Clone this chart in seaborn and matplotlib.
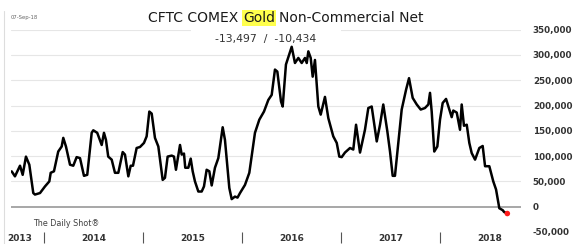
import pandas as pd
import matplotlib
matplotlib.use('Agg')
from matplotlib import pyplot as plt
import seaborn as sns

# readings: decimal year and net non-commercial position (contracts)
years = [2013.674, 2013.707, 2013.758, 2013.785, 2013.818, 2013.852, 2013.892, 2013.909,
         2013.960, 2014.010, 2014.054, 2014.068, 2014.101, 2014.144, 2014.179, 2014.195,
         2014.222, 2014.263, 2014.296, 2014.330, 2014.364, 2014.404, 2014.437, 2014.482,
         2014.498, 2014.538, 2014.583, 2014.606, 2014.626, 2014.649, 2014.684, 2014.717,
         2014.751, 2014.795, 2014.818, 2014.852, 2014.876, 2014.899, 2014.936, 2014.970,
         2015.010, 2015.037, 2015.064, 2015.088, 2015.121, 2015.155, 2015.199, 2015.222,
         2015.249, 2015.290, 2015.313, 2015.333, 2015.374, 2015.391, 2015.414, 2015.427,
         2015.458, 2015.482, 2015.502, 2015.525, 2015.559, 2015.593, 2015.616, 2015.643,
         2015.670, 2015.694, 2015.727, 2015.761, 2015.805, 2015.828, 2015.872, 2015.896,
         2015.929, 2015.955, 2015.980, 2016.030, 2016.074, 2016.131, 2016.175, 2016.222,
         2016.266, 2016.300, 2016.333, 2016.357, 2016.394, 2016.411, 2016.444, 2016.502,
         2016.535, 2016.569, 2016.603, 2016.636, 2016.654, 2016.670, 2016.694, 2016.714,
         2016.737, 2016.771, 2016.795, 2016.838, 2016.872, 2016.922, 2016.957, 2016.983,
         2017.007, 2017.040, 2017.091, 2017.124, 2017.152, 2017.192, 2017.242, 2017.276,
         2017.310, 2017.361, 2017.394, 2017.427, 2017.468, 2017.495, 2017.522, 2017.545,
         2017.579, 2017.613, 2017.657, 2017.687, 2017.724, 2017.765, 2017.805, 2017.848,
         2017.882, 2017.899, 2017.916, 2017.942, 2017.973, 2018.000, 2018.027, 2018.061,
         2018.094, 2018.118, 2018.134, 2018.169, 2018.202, 2018.219, 2018.242, 2018.270,
         2018.296, 2018.320, 2018.354, 2018.397, 2018.431, 2018.455, 2018.498, 2018.538,
         2018.566, 2018.599, 2018.634, 2018.647, 2018.680]
net = [69800, 60000, 81000, 63000, 99000, 83000, 27000, 24000,
       27000, 40000, 50000, 67000, 70000, 109000, 119000, 136000,
       119000, 83000, 81000, 98000, 96000, 61000, 63000, 146000,
       151000, 146000, 122000, 146000, 132000, 99000, 93000, 67000,
       67000, 108000, 103000, 60000, 81000, 81000, 116000, 118000,
       126000, 139000, 188000, 184000, 136000, 119000, 53000, 57000,
       99000, 101000, 99000, 73000, 122000, 103000, 105000, 77000,
       77000, 95000, 70000, 50000, 30000, 30000, 40000, 73000,
       70000, 42000, 77000, 96000, 157000, 132000, 37000, 15000,
       20000, 18000, 27000, 43000, 67000, 146000, 172000, 188000,
       211000, 221000, 271000, 267000, 208000, 198000, 281000, 316000,
       284000, 294000, 284000, 294000, 284000, 307000, 294000, 257000,
       290000, 198000, 182000, 217000, 175000, 139000, 126000, 99000,
       98000, 107000, 116000, 113000, 162000, 107000, 152000, 195000,
       198000, 129000, 162000, 202000, 149000, 109000, 61000, 61000,
       126000, 192000, 231000, 254000, 215000, 202000, 192000, 195000,
       202000, 225000, 188000, 109000, 119000, 172000, 205000, 213000,
       192000, 177000, 190000, 186000, 152000, 202000, 160000, 162000,
       126000, 106000, 93000, 116000, 120000, 80000, 80000, 50000,
       34000, -3000, -7000, -10434, -13497]

year_labels = ['2013', '2014', '2015', '2016', '2017', '2018']
year_label_pos = [2013.75, 2014.5, 2015.5, 2016.5, 2017.5, 2018.5]
year_breaks = [2014, 2015, 2016, 2017, 2018]
y_ticks = [-50000, 0, 50000, 100000, 150000, 200000, 250000, 300000, 350000]
latest = '-13,497  /  -10,434'

sns.set_style('white')
plt.rcParams['font.family'] = ['DejaVu Sans']

df = pd.DataFrame({'year': years, 'net': net})

W, H = 583, 244
fig = plt.figure(figsize=(W / 100, H / 100), dpi=100)
ax = fig.add_axes([11 / W, 12 / H, 510 / W, 202.4 / H])

# grid
for v in y_ticks[2:]:
    ax.axhline(v, color='#e6e6e6', lw=0.8, zorder=0)
ax.axhline(0, color='#a0a0a0', lw=1.3, zorder=1)

sns.lineplot(data=df, x='year', y='net', color='black', lw=1.8, ax=ax, zorder=3)
sns.scatterplot(data=df.tail(1), x='year', y='net', color='#ff1a1a', s=16,
                edgecolor='none', ax=ax, zorder=4)

ax.set_xlim(2013.667, 2018.818)
ax.set_ylim(-50000, 350000)
for s in ax.spines.values():
    s.set_visible(False)
ax.set_xlabel('')
ax.set_ylabel('')

# right-hand value axis
ax.yaxis.tick_right()
ax.set_yticks(y_ticks)
ax.set_yticklabels([f'{v:,}' for v in y_ticks], fontsize=6.3, fontweight='bold',
                   color='#333333')
ax.tick_params(axis='y', length=0, pad=8.5)

# year axis with separators
ax.set_xticks(year_label_pos)
ax.set_xticklabels(year_labels, fontsize=6.5, fontweight='bold', color='#333333')
ax.set_xticks(year_breaks, minor=True)
ax.tick_params(axis='x', which='both', bottom=True)
ax.tick_params(axis='x', which='major', length=0, pad=1.5)
ax.tick_params(axis='x', which='minor', length=8, width=0.8, color='#555555',
               direction='out')

ax.text(0.5, 0.955, '      ' + latest + '      ', transform=ax.transAxes,
        ha='center', va='center', fontsize=7.8, color='#333333', zorder=2.5,
        bbox=dict(boxstyle='square,pad=0.35', fc='white', ec='none'))

ax.text(22 / 510, 0.04, 'The Daily Shot\u00ae', transform=ax.transAxes,
        ha='left', va='center', fontsize=5.8, color='#404040')

fig.text(11 / W, 1 - 18 / H, '07-Sep-18', fontsize=3.8, color='#666666',
         va='center', ha='left')

# left border of the chart frame
fig.add_artist(plt.Line2D([4 / W, 4 / W], [0, 1 - 11 / H], color='#dddddd', lw=0.8))

# title with highlighted word
fs = 10
fig.canvas.draw()
rend = fig.canvas.get_renderer()
pieces = ['CFTC COMEX', 'Gold', 'Non-Commercial Net']
widths = []
for p in pieces:
    t = fig.text(0, 0, p, fontsize=fs)
    widths.append(t.get_window_extent(rend).width)
    t.remove()
gap = 0.32 * fs * 100 / 72
total = sum(widths) + gap * (len(pieces) - 1)
x = 286 - total / 2
ty = 1 - 18 / H
for p, w in zip(pieces, widths):
    kw = {}
    if p == 'Gold':
        kw['bbox'] = dict(boxstyle='square,pad=0.08', fc='#ffff4d', ec='none')
    fig.text(x / W, ty, p, fontsize=fs, color='#1a1a1a', ha='left', va='center', **kw)
    x += w + gap

fig.savefig('out.png', dpi=100)
